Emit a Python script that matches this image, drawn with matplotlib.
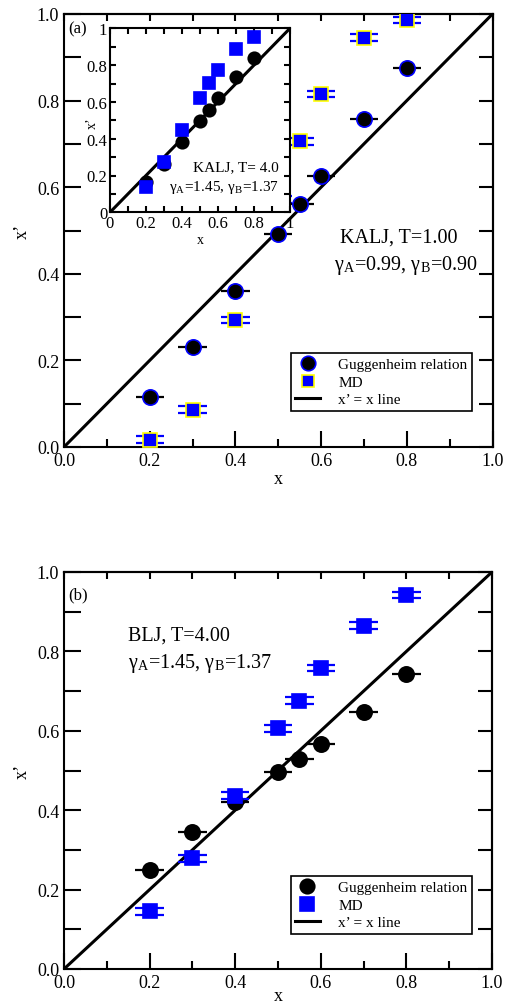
import matplotlib
matplotlib.use('Agg')
import matplotlib.pyplot as plt
from matplotlib.transforms import offset_copy
from matplotlib.ticker import MultipleLocator

plt.rcParams['font.family'] = ['Liberation Serif', 'DejaVu Serif']
plt.rcParams['mathtext.fontset'] = 'stix'

# ---- data ----
x_kalj = [0.2, 0.3, 0.4, 0.5, 0.55, 0.6, 0.7, 0.8]
gug_kalj = [0.115, 0.231, 0.360, 0.493, 0.562, 0.627, 0.758, 0.875]
md_kalj = [0.017, 0.086, 0.293, 0.571, 0.706, 0.815, 0.945, 0.986]

x_ins = [0.2, 0.3, 0.4, 0.5, 0.55, 0.6, 0.7, 0.8]
gug_ins = [0.166, 0.263, 0.380, 0.494, 0.556, 0.620, 0.734, 0.837]
md_ins = [0.136, 0.275, 0.449, 0.621, 0.701, 0.773, 0.888, 0.951]

x_blj = [0.2, 0.3, 0.4, 0.5, 0.55, 0.6, 0.7, 0.8]
gug_blj = [0.250, 0.344, 0.420, 0.495, 0.529, 0.567, 0.647, 0.743]
md_blj = [0.145, 0.279, 0.437, 0.606, 0.676, 0.758, 0.865, 0.942]

xerr_val = 0.033

W, H = 516, 1004
fig = plt.figure(figsize=(W / 100, H / 100), dpi=100)


def px_axes(l, r, t, b):
    return fig.add_axes([l / W, (H - b) / H, (r - l) / W, (b - t) / H])


def set_locs(axis):
    axis.set_major_locator(MultipleLocator(0.2))
    axis.set_minor_locator(MultipleLocator(0.1))


def style_main(ax, fs=13, lw=1.5):
    ax.set_xlim(0, 1)
    ax.set_ylim(0, 1)
    set_locs(ax.xaxis)
    set_locs(ax.yaxis)
    ax.tick_params(which='both', direction='in', top=False, right=False,
                   labelsize=fs, width=lw, color='black')
    ax.tick_params(axis='x', which='major', length=11.5)
    ax.tick_params(axis='x', which='minor', length=6)
    ax.tick_params(axis='y', which='both', length=12)
    for s in ax.spines.values():
        s.set_linewidth(lw)
    # short ticks on top / right
    top = ax.secondary_xaxis('top')
    set_locs(top.xaxis)
    top.tick_params(which='both', direction='in', length=5, width=lw, labeltop=False)
    right = ax.secondary_yaxis('right')
    set_locs(right.yaxis)
    right.tick_params(which='both', direction='in', length=10, width=lw, labelright=False)
    for s in list(top.spines.values()) + list(right.spines.values()):
        s.set_linewidth(lw)


def style_inset(ax, fs=12, lw=1.5):
    ax.set_xlim(0, 1)
    ax.set_ylim(0, 1)
    set_locs(ax.xaxis)
    set_locs(ax.yaxis)
    ax.tick_params(which='both', direction='in', top=True, right=True,
                   labelsize=fs, width=lw, length=4.5, color='black', pad=2)
    for s in ax.spines.values():
        s.set_linewidth(lw)
    fmt = plt.FuncFormatter(lambda v, p: '%g' % round(v, 2))
    ax.xaxis.set_major_formatter(fmt)
    ax.yaxis.set_major_formatter(fmt)


def draw(ax, xs, gug, md, circ_edge, sq_edge, ms=11, ms2=9.5, elw=1.6, dy=2.4):
    ax.plot([0, 1], [0, 1], color='black', lw=2.2, zorder=1)
    # MD errorbars drawn twice, slightly offset -> "=" look
    for d in (-dy, dy):
        tr = offset_copy(ax.transData, fig=fig, x=0, y=d, units='points')
        ax.errorbar(xs, md, xerr=xerr_val, fmt='none', ecolor='blue',
                    elinewidth=elw, capsize=0, transform=tr, zorder=2)
    ax.errorbar(xs, gug, xerr=xerr_val, fmt='none', ecolor='black',
                elinewidth=elw, capsize=0, zorder=2)
    h1, = ax.plot(xs, gug, 'o', ms=ms, mfc='black', mec=circ_edge, mew=1.2,
                  ls='none', zorder=3)
    h2, = ax.plot(xs, md, 's', ms=ms2, mfc='blue', mec=sq_edge, mew=1.2,
                  ls='none', zorder=3)
    return h1, h2


def legend(ax, handles, anchor):
    line = plt.Line2D([], [], color='black', lw=2.2)
    leg = ax.legend(list(handles) + [line],
                    ['Guggenheim relation', 'MD', "x\u2019 = x line"],
                    loc='lower right', bbox_to_anchor=anchor, fontsize=11,
                    frameon=True, fancybox=False, edgecolor='black',
                    framealpha=1, labelspacing=0.25, handlelength=1.6,
                    handletextpad=1.2, borderpad=0.3, borderaxespad=0,
                    markerscale=0.95)
    leg.get_frame().set_linewidth(1.2)
    leg.set_zorder(5)


# ---- panel (a) ----
ax1 = px_axes(64, 492.5, 15, 448)
style_main(ax1)
hh = draw(ax1, x_kalj, gug_kalj, md_kalj, 'blue', 'yellow')
legend(ax1, hh, (0.952, 0.083))
ax1.set_xlabel('x', fontsize=13, labelpad=1)
ax1.set_ylabel('x\u2019', fontsize=13, labelpad=4)
ax1.text(0.01, 0.985, '(a)', transform=ax1.transAxes, fontsize=12, va='top')
ax1.text(0.645, 0.475, 'KALJ, T=1.00', transform=ax1.transAxes, fontsize=14.5)
ax1.text(0.63, 0.41, r'γ$_\mathregular{A}$=0.99, γ$_\mathregular{B}$=0.90',
         transform=ax1.transAxes, fontsize=14.5)

# inset
ax_in = px_axes(110, 290, 29.3, 213.3)
style_inset(ax_in)
draw(ax_in, x_ins, gug_ins, md_ins, 'black', 'blue', ms=9, ms2=8, elw=1.4, dy=1.8)
ax_in.set_xlabel('x', fontsize=10)
ax_in.xaxis.set_label_coords(0.5, -0.11)
ax_in.set_ylabel('x\u2019', fontsize=10)
ax_in.yaxis.set_label_coords(-0.06, 0.49)
ax_in.text(0.46, 0.23, 'KALJ, T= 4.0', transform=ax_in.transAxes, fontsize=11)
ax_in.text(0.33, 0.12, r'γ$_\mathregular{A}$=1.45, γ$_\mathregular{B}$=1.37',
           transform=ax_in.transAxes, fontsize=11)

# ---- panel (b) ----
ax2 = px_axes(64, 492, 573, 970)
style_main(ax2)
hh = draw(ax2, x_blj, gug_blj, md_blj, 'black', 'blue', ms2=10)
legend(ax2, hh, (0.953, 0.088))
ax2.set_xlabel('x', fontsize=13, labelpad=-3)
ax2.set_ylabel('x\u2019', fontsize=13, labelpad=4)
ax2.text(0.01, 0.965, '(b)', transform=ax2.transAxes, fontsize=12, va='top')
ax2.text(0.15, 0.83, 'BLJ, T=4.00', transform=ax2.transAxes, fontsize=14.5)
ax2.text(0.15, 0.76, r'γ$_\mathregular{A}$=1.45, γ$_\mathregular{B}$=1.37',
         transform=ax2.transAxes, fontsize=14.5)

fig.savefig('out.png', dpi=100)
